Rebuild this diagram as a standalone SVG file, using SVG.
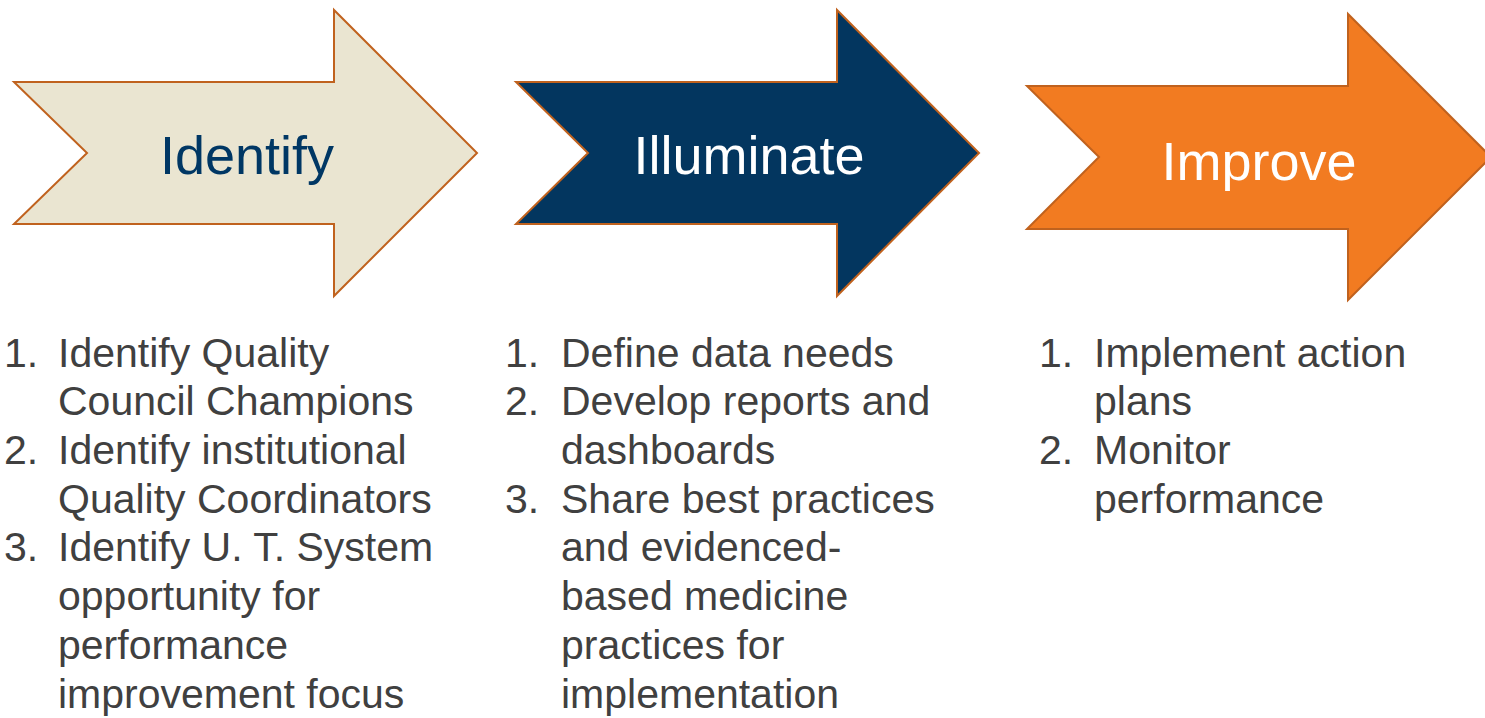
<svg xmlns="http://www.w3.org/2000/svg" width="1485" height="718" viewBox="0 0 1485 718">
  <style>
    .arrow { stroke: #C0621E; stroke-width: 2; stroke-linejoin: miter; }
    .title { font-family: "Liberation Sans", Arial, sans-serif; font-size: 54px; text-anchor: middle; }
    .item { font-family: "Liberation Sans", Arial, sans-serif; font-size: 41px; fill: #404040; }
  </style>
  <rect width="1485" height="718" fill="#FFFFFF"/>

  <!-- Step 1: Identify -->
  <g id="identify">
    <polygon class="arrow" fill="#EAE5D1" points="14,82 334,82 334,10 477,153 334,296 334,224 14,224 87,153"/>
    <text class="title" x="247" y="174" fill="#003764">Identify</text>
    <text class="item" x="4" y="367">1.</text>
    <text class="item" x="58" y="367">Identify Quality</text>
    <text class="item" x="58" y="415">Council Champions</text>
    <text class="item" x="4" y="464">2.</text>
    <text class="item" x="58" y="464">Identify institutional</text>
    <text class="item" x="58" y="513">Quality Coordinators</text>
    <text class="item" x="4" y="561">3.</text>
    <text class="item" x="58" y="561">Identify U. T. System</text>
    <text class="item" x="58" y="610">opportunity for</text>
    <text class="item" x="58" y="659">performance</text>
    <text class="item" x="58" y="708">improvement focus</text>
  </g>

  <!-- Step 2: Illuminate -->
  <g id="illuminate">
    <polygon class="arrow" fill="#03365F" points="516,82 837,82 837,10 979,153 837,296 837,224 516,224 588,153"/>
    <text class="title" x="749" y="174" fill="#FFFFFF">Illuminate</text>
    <text class="item" x="505" y="367">1.</text>
    <text class="item" x="561" y="367">Define data needs</text>
    <text class="item" x="505" y="415">2.</text>
    <text class="item" x="561" y="415">Develop reports and</text>
    <text class="item" x="561" y="464">dashboards</text>
    <text class="item" x="505" y="513">3.</text>
    <text class="item" x="561" y="513">Share best practices</text>
    <text class="item" x="561" y="561">and evidenced-</text>
    <text class="item" x="561" y="610">based medicine</text>
    <text class="item" x="561" y="659">practices for</text>
    <text class="item" x="561" y="708">implementation</text>
  </g>

  <!-- Step 3: Improve -->
  <g id="improve">
    <polygon class="arrow" fill="#F27B21" stroke="#C8661F" points="1027,86 1348,86 1348,14 1491,157 1348,300 1348,229 1027,229 1099,157"/>
    <text class="title" x="1259" y="180" fill="#FFFFFF">Improve</text>
    <text class="item" x="1039" y="367">1.</text>
    <text class="item" x="1094" y="367">Implement action</text>
    <text class="item" x="1094" y="415">plans</text>
    <text class="item" x="1039" y="464">2.</text>
    <text class="item" x="1094" y="464">Monitor</text>
    <text class="item" x="1094" y="513">performance</text>
  </g>

  <g id="connectors"></g>
</svg>
